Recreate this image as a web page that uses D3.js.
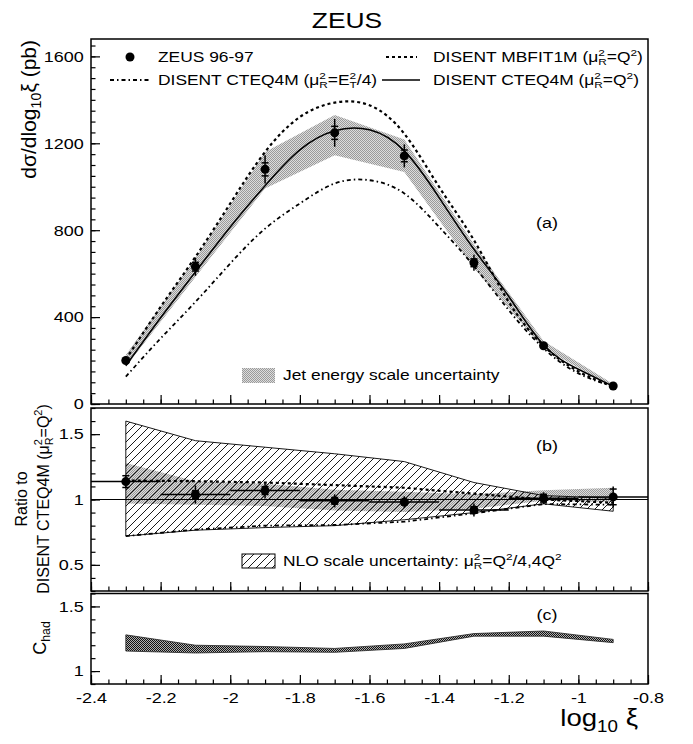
<!DOCTYPE html>
<html><head><meta charset="utf-8">
<script src="https://cdn.jsdelivr.net/npm/d3@7"></script>
<style>body{margin:0;background:#fff}svg{display:block}</style>
</head><body>
<svg id="c" width="693" height="744"></svg>
<script>
// ---------------- data ----------------
const xBins = [-2.3, -2.1, -1.9, -1.7, -1.5, -1.3, -1.1, -0.9];
const zeusXsec   = [200, 632, 1080, 1248, 1142, 650, 268, 83];
const zeusTotErr = [10, 42, 65, 64, 53, 37, 14, 6];
const zeusStatErr= [5, 20, 30, 30, 27, 18, 7, 3];
const jesUpA = [226, 672, 1160, 1330, 1217, 735, 290, 92];
const jesDnA = [172, 585, 992, 1145, 1068, 625, 255, 78];

const xFine = [-2.3,-2.2,-2.1,-2.0,-1.9,-1.8,-1.7,-1.6,-1.5,-1.4,-1.3,-1.2,-1.1,-1.0,-0.9];
const cteqQ2  = [176, 397, 608, 815, 1005, 1170, 1258, 1262, 1165, 950, 712, 495, 272, 160, 81];
const mbfitQ2 = [205, 447, 677, 923, 1160, 1321, 1387, 1375, 1244, 999, 754, 470, 268, 150, 80];
const cteqEt  = [126, 302, 470, 647, 807, 923, 1015, 1030, 969, 815, 635, 432, 256, 141, 82];

const ratioVal    = [1.137, 1.038, 1.068, 0.99, 0.98, 0.92, 1.01, 1.02];
const ratioTotErr = [0.05, 0.07, 0.06, 0.05, 0.045, 0.05, 0.045, 0.08];
const ratioStatErr= [0.045, 0.03, 0.03, 0.025, 0.02, 0.025, 0.03, 0.06];
const ratioMbfit  = [1.145, 1.14, 1.13, 1.11, 1.09, 1.045, 1.0, 0.975];
const ratioEt     = [0.72, 0.77, 0.80, 0.805, 0.83, 0.895, 0.965, 0.96];
const nloUp = [1.60, 1.45, 1.40, 1.35, 1.29, 1.13, 1.03, 1.01];
const nloDn = [0.72, 0.765, 0.785, 0.80, 0.845, 0.90, 0.967, 0.91];
const jesUpB = [1.28, 1.14, 1.12, 1.075, 1.06, 1.04, 1.07, 1.09];
const jesDnB = [0.97, 0.96, 0.95, 0.915, 0.905, 0.93, 0.99, 0.98];

const chadUp = [1.28, 1.20, 1.19, 1.175, 1.21, 1.29, 1.31, 1.245];
const chadDn = [1.155, 1.14, 1.15, 1.145, 1.175, 1.27, 1.27, 1.22];

const xMajorTicks = [-2.4, -2.2, -2, -1.8, -1.6, -1.4, -1.2, -1, -0.8];
const yTicksA = [0, 400, 800, 1200, 1600];
const yTicksB = [0.5, 1, 1.5];
const yTicksC = [1, 1.5];

// ---------------- setup ----------------
const FONT = "'Liberation Sans', Arial, Helvetica, sans-serif";
const SX = 1.2;
const svg = d3.select('#c').attr('font-family', FONT);
const x = d3.scaleLinear().domain([-2.4, -0.8]).range([91, 648]);
const yA = d3.scaleLinear().domain([0, 1680]).range([404, 39]);
const yB = d3.scaleLinear().domain([0.3, 1.7]).range([591, 408]);
const yC = d3.scaleLinear().domain([0.9, 1.6]).range([684, 593.5]);
const xMinor = d3.range(0, 33).map(i => +(-2.4 + i * 0.05).toFixed(2));

// patterns
const defs = svg.append('defs');
const pJ = defs.append('pattern').attr('id', 'jes').attr('patternUnits', 'userSpaceOnUse').attr('width', 2).attr('height', 2);
pJ.append('rect').attr('width', 2).attr('height', 2).attr('fill', '#dcdcdc');
pJ.append('rect').attr('width', 1).attr('height', 1).attr('fill', '#9a9a9a');
pJ.append('rect').attr('x', 1).attr('y', 1).attr('width', 1).attr('height', 1).attr('fill', '#9a9a9a');
const pC = defs.append('pattern').attr('id', 'chad').attr('patternUnits', 'userSpaceOnUse').attr('width', 2).attr('height', 2);
pC.append('rect').attr('width', 2).attr('height', 2).attr('fill', '#b0b0b0');
pC.append('rect').attr('width', 1).attr('height', 1).attr('fill', '#111');
pC.append('rect').attr('x', 1).attr('y', 1).attr('width', 1).attr('height', 1).attr('fill', '#111');
const pH = defs.append('pattern').attr('id', 'hatch').attr('patternUnits', 'userSpaceOnUse').attr('width', 8).attr('height', 8);
pH.append('path').attr('d', 'M-2,2 L2,-2 M0,8 L8,0 M6,10 L10,6').attr('stroke', '#000').attr('stroke-width', 0.9);

// rich text helper
function rich(sel, parts, size) {
  let base = 0;
  const small = size * 0.68;
  const up = -size * 0.42, dn = size * 0.24;
  parts.forEach(p => {
    if (typeof p === 'string') {
      sel.append('tspan').attr('font-size', size).attr('dy', -base).text(p); base = 0; return;
    }
    if (p.sup !== undefined && p.sub !== undefined) {
      sel.append('tspan').attr('font-size', small).attr('dy', up - base).text(p.sup);
      sel.append('tspan').attr('font-size', small).attr('dx', -small * 0.556 * p.sup.length).attr('dy', dn - up).text(p.sub);
      base = dn;
    } else if (p.sup !== undefined) {
      sel.append('tspan').attr('font-size', small).attr('dy', up - base).text(p.sup); base = up;
    } else {
      sel.append('tspan').attr('font-size', small).attr('dy', dn - base).text(p.sub); base = dn;
    }
  });
  return sel;
}
function label(xp, yp, parts, size, anchor, rot) {
  let tr = `translate(${xp},${yp})`;
  if (rot) tr += ` rotate(${rot})`;
  else tr += ` scale(${SX},1)`;
  const t = svg.append('text').attr('transform', tr).attr('font-size', size)
    .attr('text-anchor', anchor || 'start').attr('fill', '#000');
  return rich(t, parts, size);
}

// ---------------- axes ----------------
const fmtX = d => String(+(+d).toFixed(1));
function axes(yS, yTicks, yMinorStep, fmtY, xLabels) {
  const yb = yS.range()[0];
  const g1 = svg.append('g').attr('transform', `translate(0,${yb})`)
    .call(d3.axisBottom(x).tickValues(xMinor).tickSize(-4.5).tickFormat(''));
  const g2 = svg.append('g').attr('transform', `translate(0,${yb})`)
    .call(d3.axisBottom(x).tickValues(xMajorTicks).tickSize(-9).tickPadding(8)
      .tickFormat(xLabels ? fmtX : ''));
  const d = yS.domain();
  const minor = [];
  for (let v = Math.ceil(d[0] / yMinorStep - 1e-6) * yMinorStep; v <= d[1] + 1e-9; v += yMinorStep) minor.push(+v.toFixed(4));
  const g3 = svg.append('g').attr('transform', `translate(${x.range()[0]},0)`)
    .call(d3.axisLeft(yS).tickValues(minor).tickSize(-4.5).tickFormat(''));
  const g4 = svg.append('g').attr('transform', `translate(${x.range()[0]},0)`)
    .call(d3.axisLeft(yS).tickValues(yTicks).tickSize(-9).tickPadding(6).tickFormat(fmtY));
  [g1, g2, g3, g4].forEach(g => {
    g.select('.domain').remove();
    g.selectAll('line').attr('stroke', '#000').attr('stroke-width', 1.2);
    g.selectAll('text').attr('font-size', 15).attr('font-family', FONT).attr('fill', '#000')
      .attr('transform', `scale(${SX},1)`);
  });
}

const line = (xs, ys, yS, curve) => d3.line().x((d, i) => x(xs[i])).y(d => yS(d)).curve(curve || d3.curveLinear)(ys);
const area = (xs, up, dn, yS) => d3.area().x((d, i) => x(xs[i])).y0((d, i) => yS(dn[i])).y1(d => yS(d))(up);

// ---------------- panel (a) ----------------
svg.append('path').attr('d', area(xBins, jesUpA, jesDnA, yA)).attr('fill', 'url(#jes)');
svg.append('path').attr('d', line(xFine, mbfitQ2, yA, d3.curveNatural)).attr('fill', 'none')
  .attr('stroke', '#000').attr('stroke-width', 2.2).attr('stroke-dasharray', '3,3');
svg.append('path').attr('d', line(xFine, cteqEt, yA, d3.curveNatural)).attr('fill', 'none')
  .attr('stroke', '#000').attr('stroke-width', 1.8).attr('stroke-dasharray', '4,3,1.5,3');
svg.append('path').attr('d', line(xFine, cteqQ2, yA, d3.curveNatural)).attr('fill', 'none')
  .attr('stroke', '#000').attr('stroke-width', 1.5);

function points(yS, vals, tot, stat, hbar) {
  const g = svg.append('g').attr('stroke', '#000').attr('stroke-width', 1.5);
  xBins.forEach((xv, i) => {
    const cx = x(xv), cy = yS(vals[i]);
    g.append('line').attr('x1', cx).attr('x2', cx).attr('y1', yS(vals[i] - tot[i])).attr('y2', yS(vals[i] + tot[i]));
    [-1, 1].forEach(s => g.append('line').attr('x1', cx - 3.5).attr('x2', cx + 3.5)
      .attr('y1', yS(vals[i] + s * stat[i])).attr('y2', yS(vals[i] + s * stat[i])));
    if (hbar) g.append('line').attr('x1', x(xv - 0.1)).attr('x2', x(xv + 0.1)).attr('y1', cy).attr('y2', cy);
    svg.append('circle').attr('cx', cx).attr('cy', cy).attr('r', 4.5).attr('fill', '#000');
  });
}
points(yA, zeusXsec, zeusTotErr, zeusStatErr, false);

// legend (a)
svg.append('circle').attr('cx', 130).attr('cy', 57).attr('r', 4.5).attr('fill', '#000');
label(158, 62, ['ZEUS 96-97'], 14.5);
svg.append('line').attr('x1', 386).attr('x2', 417).attr('y1', 57).attr('y2', 57)
  .attr('stroke', '#000').attr('stroke-width', 2.2).attr('stroke-dasharray', '3,3');
label(433, 62, ['DISENT MBFIT1M (μ', {sup: '2', sub: 'R'}, '=Q', {sup: '2'}, ')'], 14.5);
svg.append('line').attr('x1', 110).attr('x2', 150).attr('y1', 80).attr('y2', 80)
  .attr('stroke', '#000').attr('stroke-width', 1.8).attr('stroke-dasharray', '4,3,1.5,3');
label(158, 85, ['DISENT CTEQ4M (μ', {sup: '2', sub: 'R'}, '=E', {sup: '2', sub: 'T'}, '/4)'], 14.5);
svg.append('line').attr('x1', 382).attr('x2', 420).attr('y1', 80).attr('y2', 80)
  .attr('stroke', '#000').attr('stroke-width', 1.5);
label(433, 85, ['DISENT CTEQ4M (μ', {sup: '2', sub: 'R'}, '=Q', {sup: '2'}, ')'], 14.5);
svg.append('rect').attr('x', 242).attr('y', 368).attr('width', 33).attr('height', 15).attr('fill', 'url(#jes)');
label(283, 380, ['Jet energy scale uncertainty'], 14.5);
label(547, 228, ['(a)'], 15, 'middle');

axes(yA, yTicksA, 50, d3.format('d'), false);

// ---------------- panel (b) ----------------
svg.append('path').attr('d', area(xBins, jesUpB, jesDnB, yB)).attr('fill', 'url(#jes)');
svg.append('path').attr('d', area(xBins, nloUp, nloDn, yB)).attr('fill', 'url(#hatch)')
  .attr('stroke', '#000').attr('stroke-width', 0.9);
svg.append('line').attr('x1', x(-2.4)).attr('x2', x(-0.8)).attr('y1', yB(1)).attr('y2', yB(1))
  .attr('stroke', '#000').attr('stroke-width', 1.2);
svg.append('path').attr('d', line(xBins, ratioMbfit, yB)).attr('fill', 'none')
  .attr('stroke', '#000').attr('stroke-width', 2.2).attr('stroke-dasharray', '3,3');
svg.append('path').attr('d', line(xBins, ratioEt, yB)).attr('fill', 'none')
  .attr('stroke', '#000').attr('stroke-width', 1.8).attr('stroke-dasharray', '4,3,1.5,3');
points(yB, ratioVal, ratioTotErr, ratioStatErr, true);

svg.append('rect').attr('x', 242).attr('y', 554).attr('width', 33).attr('height', 14)
  .attr('fill', 'url(#hatch)').attr('stroke', '#000').attr('stroke-width', 1);
label(283, 566, ['NLO scale uncertainty: μ', {sup: '2', sub: 'R'}, '=Q', {sup: '2'}, '/4,4Q', {sup: '2'}], 14.5);
label(547, 451, ['(b)'], 15, 'middle');
axes(yB, yTicksB, 0.1, d3.format('~g'), false);

// ---------------- panel (c) ----------------
svg.append('path').attr('d', area(xBins, chadUp, chadDn, yC)).attr('fill', 'url(#chad)')
  .attr('stroke', '#222').attr('stroke-width', 0.8);
label(547, 620, ['(c)'], 15, 'middle');
axes(yC, yTicksC, 0.1, d3.format('~g'), true);

// frames
[yA, yB, yC].forEach(yS => {
  const r = yS.range();
  svg.append('rect').attr('x', x.range()[0]).attr('y', r[1]).attr('width', x.range()[1] - x.range()[0])
    .attr('height', r[0] - r[1]).attr('fill', 'none').attr('stroke', '#000').attr('stroke-width', 1.5);
});

// titles
label(347, 28, ['ZEUS'], 22, 'middle');
label(638, 726, ['log', {sub: '10'}, ' ξ'], 23, 'end');
label(36, 40, ['dσ/dlog', {sub: '10'}, 'ξ (pb)'], 21, 'end', -90);
label(27, 499, ['Ratio to'], 16, 'middle', -90);
label(49, 499, ['DISENT CTEQ4M (μ', {sup: '2', sub: 'R'}, '=Q', {sup: '2'}, ')'], 16, 'middle', -90);
label(46, 638, ['C', {sub: 'had'}], 18, 'middle', -90);
</script>
</body></html>
